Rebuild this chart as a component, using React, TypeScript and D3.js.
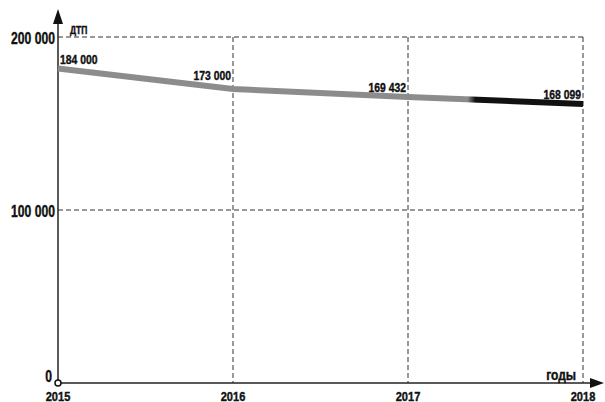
import React from "react";
import * as d3 from "d3";

const years = [2015, 2016, 2017, 2018];
const lineValues = [181800, 169900, 165300, 161300];
const valueLabels = ["184 000", "173 000", "169 432", "168 099"];
const yTicks = [0, 100000, 200000];
const yTickLabels = ["0", "100 000", "200 000"];
const yAxisTitle = "ДТП";
const xAxisTitle = "годы";

const W = 605;
const H = 402;
const FONT = "'Liberation Sans', Arial, sans-serif";

type TProps = {
  x: number;
  y: number;
  size: number;
  sx: number;
  anchor?: "start" | "middle" | "end";
  children: React.ReactNode;
};

function T({ x, y, size, sx, anchor = "start", children }: TProps) {
  return (
    <text
      transform={`translate(${x},${y}) scale(${sx},1)`}
      textAnchor={anchor}
      fontFamily={FONT}
      fontWeight="bold"
      fontSize={size}
      fill="#111"
      stroke="#111"
      strokeWidth={0.4}
    >
      {children}
    </text>
  );
}

export default function App() {
  const x = d3.scaleLinear().domain([2015, 2018]).range([58, 583]);
  const y = d3.scaleLinear().domain([0, 200000]).range([383, 37]);

  const line = d3
    .line<number>()
    .x((_, i) => x(years[i]))
    .y((d) => y(d));

  const x0 = x(2015);
  const y0 = y(0);
  const xEnd = x(2018);
  const yTop = y(200000);
  const labelDy = [-4, -9, -5, -5];

  return (
    <svg width={W} height={H} style={{ position: "absolute", left: 0, top: 0, background: "#fff" }}>
      <defs>
        <linearGradient id="lineGrad" gradientUnits="userSpaceOnUse" x1={x0} x2={xEnd} y1={0} y2={0}>
          <stop offset="0" stopColor="#8c8c8c" />
          <stop offset="0.78" stopColor="#8c8c8c" />
          <stop offset="0.795" stopColor="#111" />
          <stop offset="1" stopColor="#111" />
        </linearGradient>
      </defs>

      {/* grid */}
      {yTicks.filter((t) => t > 0).map((t) => (
        <line key={"h" + t} x1={x0} x2={xEnd} y1={y(t)} y2={y(t)} stroke="#333" strokeWidth={1} strokeDasharray="5,3" />
      ))}
      {years.slice(1).map((yr) => (
        <line key={"v" + yr} x1={x(yr)} x2={x(yr)} y1={yTop} y2={y0} stroke="#333" strokeWidth={1} strokeDasharray="5,3" />
      ))}

      {/* axes */}
      <line x1={x0} x2={x0} y1={y0} y2={22} stroke="#222" strokeWidth={1.5} />
      <path d={`M${x0},9 L${x0 - 5},24 L${x0 + 5},24 Z`} fill="#111" />
      <line x1={x0} x2={592} y1={y0} y2={y0} stroke="#222" strokeWidth={1.5} />
      <path d={`M${604},${y0} L${590},${y0 - 5} L${590},${y0 + 5} Z`} fill="#111" />
      <circle cx={x0} cy={y0} r={3} fill="#fff" stroke="#111" strokeWidth={1.5} />

      {/* data line */}
      <path d={line(lineValues) || ""} fill="none" stroke="url(#lineGrad)" strokeWidth={6} />

      {/* y tick labels */}
      {yTicks.map((t, i) => (
        <T key={"yt" + t} x={t === 0 ? 52 : 55} y={t === 0 ? y(t) - 1 : y(t) + 7} size={16} sx={0.76} anchor="end">
          {yTickLabels[i]}
        </T>
      ))}

      {/* x tick labels */}
      {years.map((yr) => (
        <T key={"xt" + yr} x={x(yr)} y={400.5} size={13} sx={0.85} anchor="middle">
          {yr}
        </T>
      ))}

      {/* value labels */}
      {valueLabels.map((lab, i) => (
        <T
          key={"vl" + i}
          x={i === 0 ? x(years[i]) + 2 : x(years[i]) - 2}
          y={y(lineValues[i]) + labelDy[i]}
          size={13}
          sx={0.8}
          anchor={i === 0 ? "start" : "end"}
        >
          {lab}
        </T>
      ))}

      {/* axis titles */}
      <T x={70} y={34} size={10} sx={0.85}>
        {yAxisTitle}
      </T>
      <T x={576} y={380} size={15} sx={0.8} anchor="end">
        {xAxisTitle}
      </T>
    </svg>
  );
}
